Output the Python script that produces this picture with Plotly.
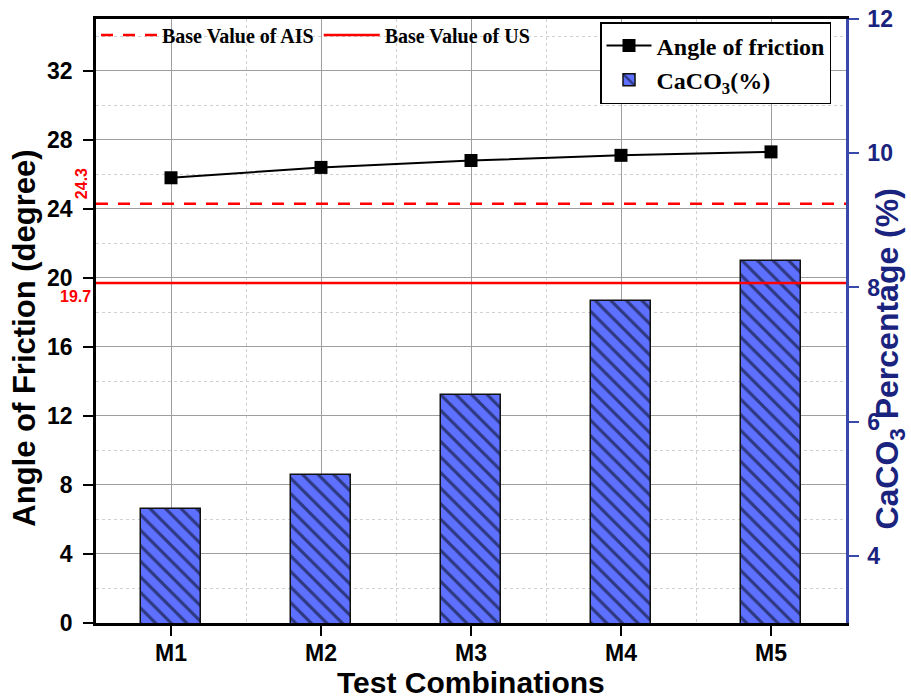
import plotly.graph_objects as go

# Test combinations and measured values
categories = ["M1", "M2", "M3", "M4", "M5"]
friction_angle = [25.8, 26.4, 26.8, 27.1, 27.3]      # degrees, left axis
caco3_pct = [4.7, 5.2, 6.4, 7.8, 8.4]                 # percent, right axis

# Reference baselines (degrees)
base_ais = 24.3
base_us = 19.7

x_pos = list(range(len(categories)))
mid_pos = [i + 0.5 for i in x_pos[:-1]]

SANS = "Liberation Sans, Arial, sans-serif"
SERIF = "Liberation Serif, Times New Roman, serif"
NAVY = "#1a237e"
BLUE_AX = "#3949ab"

fig = go.Figure()

fig.add_trace(go.Bar(
    x=x_pos, y=caco3_pct, yaxis="y2", width=0.4,
    name="CaCO<sub>3</sub>(%)", legend="legend2", legendrank=2,
    marker=dict(
        color="#5d70ff",
        line=dict(color="#111111", width=1.5),
        pattern=dict(shape="\\", fgcolor="#000000", bgcolor="#5d70ff",
                     size=11, solidity=0.28, fillmode="overlay"),
    ),
))

fig.add_trace(go.Scatter(
    x=x_pos, y=friction_angle, mode="lines+markers",
    name="Angle of friction", legend="legend2", legendrank=1,
    line=dict(color="#000000", width=2),
    marker=dict(symbol="square", size=13, color="#000000"),
))

# Baselines drawn across the whole plot width
fig.add_shape(type="line", xref="paper", x0=0, x1=1, yref="y", y0=base_ais, y1=base_ais,
              line=dict(color="#ff0000", width=2.5, dash="12px,10px"), layer="above",
              showlegend=True, name="Base Value of AIS", legend="legend")
fig.add_shape(type="line", xref="paper", x0=0, x1=1, yref="y", y0=base_us, y1=base_us,
              line=dict(color="#ff0000", width=2.5), layer="above",
              showlegend=True, name="Base Value of US", legend="legend")

fig.add_annotation(text=f"{base_ais}", xref="paper", x=-0.02, xanchor="center",
                   yref="y", y=base_ais, yanchor="bottom", yshift=2, textangle=-90,
                   showarrow=False, font=dict(family=SANS, size=16, color="#ff0000", weight="bold"))
fig.add_annotation(text=f"{base_us}", xref="paper", x=-0.004, xanchor="right",
                   yref="y", y=base_us, yanchor="top", yshift=-3,
                   showarrow=False, font=dict(family=SANS, size=16, color="#ff0000", weight="bold"))

# Axis titles
fig.add_annotation(text="Angle of Friction (degree)", xref="paper", x=-0.095, xanchor="center",
                   yref="paper", y=0.472, yanchor="middle", textangle=-90, showarrow=False,
                   font=dict(family=SANS, size=31, color="#000000", weight="bold"))
fig.add_annotation(text="Test Combinations", xref="paper", x=0.5, xanchor="center",
                   yref="paper", y=-0.098, yanchor="middle", showarrow=False,
                   font=dict(family=SANS, size=30, color="#000000", weight="bold"))
fig.add_annotation(text="CaCO<sub>3</sub> Percentage (%)", xref="paper", x=1.058, xanchor="center",
                   yref="paper", y=0.437, yanchor="middle", textangle=-90, showarrow=False,
                   font=dict(family=SANS, size=32, color=NAVY, weight="bold"))

fig.update_layout(
    width=911, height=698,
    margin=dict(l=96, r=65, t=19, b=75, autoexpand=False),
    paper_bgcolor="white", plot_bgcolor="white",
    bargap=0,
    xaxis=dict(
        range=[-0.5, 4.5], tickmode="array", tickvals=x_pos, ticktext=categories,
        showline=True, linecolor="#000000", linewidth=2.5, mirror=True,
        ticks="outside", ticklen=10, tickwidth=2, tickcolor="#000000",
        ticklabelstandoff=-2,
        tickfont=dict(family=SANS, size=23, color="#000000", weight="bold"),
        showgrid=True, gridcolor="#9e9e9e", gridwidth=1,
        minor=dict(tickmode="array", tickvals=mid_pos, showgrid=True,
                   gridcolor="#d0d0d0", griddash="dot", gridwidth=1, ticks=""),
        zeroline=False, automargin=False,
    ),
    yaxis=dict(
        range=[0, 35], tick0=0, dtick=4,
        showline=True, linecolor="#000000", linewidth=2.5,
        ticks="outside", ticklen=10, tickwidth=2, tickcolor="#000000",
        ticklabelstandoff=6,
        tickfont=dict(family=SANS, size=23, color="#000000", weight="bold"),
        showgrid=True, gridcolor="#9e9e9e", gridwidth=1,
        minor=dict(dtick=2, tick0=0, showgrid=True, gridcolor="#d0d0d0",
                   griddash="dot", gridwidth=1, ticks=""),
        zeroline=False, automargin=False,
    ),
    yaxis2=dict(
        range=[3, 12], tick0=0, dtick=2, overlaying="y", side="right",
        showline=True, linecolor=BLUE_AX, linewidth=2.5,
        ticks="outside", ticklen=10, tickwidth=2, tickcolor=BLUE_AX,
        ticklabelstandoff=4,
        tickfont=dict(family=SANS, size=23, color=NAVY, weight="bold"),
        showgrid=False, zeroline=False, automargin=False,
    ),
    legend=dict(
        orientation="h", x=0.0, xanchor="left", y=1.006, yanchor="top",
        bgcolor="rgba(0,0,0,0)", borderwidth=0,
        font=dict(family=SERIF, size=20, color="#000000", weight="bold"),
        itemwidth=56, tracegroupgap=0,
    ),
    legend2=dict(
        orientation="v", x=0.672, xanchor="left", y=0.995, yanchor="top",
        bgcolor="#ffffff", bordercolor="#000000", borderwidth=1.5,
        font=dict(family=SERIF, size=24, color="#000000", weight="bold"),
        itemwidth=45, traceorder="normal",
    ),
)

fig.write_html("out.html")
